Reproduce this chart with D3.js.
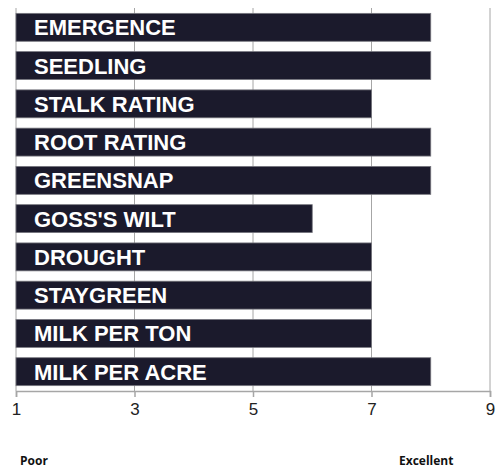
<!DOCTYPE html>
<html>
<head>
<meta charset="utf-8">
<script src="https://cdn.jsdelivr.net/npm/d3@7"></script>
<style>
  body { margin: 0; background: #fff; }
  .bar-label { font-family: "Liberation Sans", Arial, sans-serif; font-weight: bold; font-size: 22px; fill: #fff; }
  .tick text { font-family: "Liberation Sans", Arial, sans-serif; font-size: 17px; fill: #222; }
  .end-label { font-family: "Open Sans", sans-serif; font-weight: bold; font-size: 12px; fill: #111; }
</style>
</head>
<body>
<svg id="chart"></svg>
<script>
const traits = ["EMERGENCE", "SEEDLING", "STALK RATING", "ROOT RATING", "GREENSNAP",
  "GOSS'S WILT", "DROUGHT", "STAYGREEN", "MILK PER TON", "MILK PER ACRE"];
const ratings = [8, 8, 7, 8, 8, 6, 7, 7, 7, 8];
const xTicks = [1, 3, 5, 7, 9];
const endLabels = ["Poor", "Excellent"];

const width = 496, height = 469;
const margin = { top: 8, right: 6, bottom: 78, left: 16 };

const svg = d3.select("#chart").attr("width", width).attr("height", height);

var x = d3.scaleLinear().domain([1, 9]).range([margin.left, width - margin.right]);
var y = d3.scaleBand()
  .domain(traits)
  .range([margin.top, height - margin.bottom])
  .paddingInner(0.27)
  .paddingOuter(0.14);

// vertical grid lines
svg.append("g")
  .selectAll("line")
  .data(xTicks)
  .enter()
  .append("line")
  .attr("x1", d => x(d))
  .attr("x2", d => x(d))
  .attr("y1", margin.top)
  .attr("y2", height - margin.bottom)
  .attr("stroke", "#a6a6a6")
  .attr("stroke-width", 1);

var bars = svg.selectAll(".bar").data(traits).enter().append("g");

bars.append("rect")
  .attr("class", "bar")
  .attr("x", x(1))
  .attr("y", d => y(d))
  .attr("height", y.bandwidth())
  .attr("width", (d, i) => x(ratings[i]) - x(1))
  .attr("fill", "#1b1a2c")
  .attr("stroke", "#77777f")
  .attr("stroke-width", 0.8);

bars.append("text")
  .attr("class", "bar-label")
  .attr("x", x(1) + 18)
  .attr("y", d => y(d) + y.bandwidth() / 2)
  .attr("dy", "0.36em")
  .text(d => d);

var xAxis = d3.axisBottom(x).tickValues(xTicks).tickSize(6).tickPadding(6).tickFormat(d3.format("d"));
var axis = svg.append("g")
  .attr("transform", "translate(0," + (height - margin.bottom) + ")")
  .call(xAxis);
axis.select(".domain").attr("stroke", "#a6a6a6").attr("stroke-width", 1.5);
axis.selectAll(".tick line").attr("stroke", "#a6a6a6").attr("stroke-width", 1.5);

svg.append("text").attr("class", "end-label").attr("x", 20).attr("y", 465).text(endLabels[0]);
svg.append("text").attr("class", "end-label").attr("x", 399).attr("y", 465).text(endLabels[1]);
</script>
</body>
</html>
